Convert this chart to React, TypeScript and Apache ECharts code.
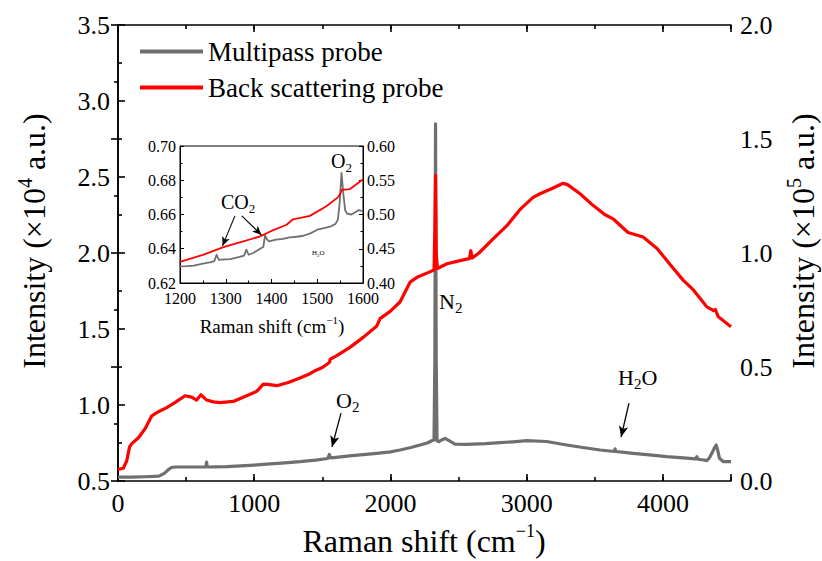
import React, { useEffect, useRef } from "react";
import * as echarts from "echarts";

// ---------- data ----------
// Main chart, multipass probe (left axis, ×10^4 a.u.)
const mainGrayX = [0, 100, 200, 300, 340, 370, 392, 420, 500, 600, 645, 650, 655, 665, 700, 800, 900, 1000, 1090, 1200, 1336, 1450, 1540, 1552, 1560, 1600, 1700, 1800, 1900, 2000, 2070, 2150, 2217, 2270, 2303, 2320, 2326, 2331, 2336, 2342, 2356, 2380, 2401, 2430, 2474, 2560, 2700, 2805, 2900, 3000, 3147, 3294, 3400, 3539, 3645, 3649, 3653, 3700, 3781, 3900, 4028, 4150, 4240, 4249, 4258, 4300, 4322, 4340, 4359, 4380, 4391, 4403, 4415, 4445, 4500];
const mainGrayY = [0.525, 0.525, 0.528, 0.532, 0.55, 0.575, 0.589, 0.592, 0.592, 0.592, 0.593, 0.625, 0.593, 0.592, 0.593, 0.595, 0.6, 0.605, 0.611, 0.618, 0.627, 0.637, 0.648, 0.675, 0.652, 0.656, 0.665, 0.673, 0.682, 0.692, 0.704, 0.72, 0.737, 0.75, 0.765, 0.77, 1.3, 2.85, 1.3, 0.765, 0.759, 0.772, 0.78, 0.765, 0.743, 0.741, 0.746, 0.752, 0.758, 0.765, 0.76, 0.737, 0.722, 0.704, 0.694, 0.712, 0.694, 0.69, 0.682, 0.672, 0.66, 0.652, 0.645, 0.66, 0.643, 0.638, 0.634, 0.65, 0.682, 0.72, 0.737, 0.7, 0.65, 0.627, 0.627];

// Main chart, back scattering probe (right axis, ×10^5 a.u.)
const mainRedX = [0, 39, 64, 85, 101, 150, 200, 248, 300, 358, 420, 492, 540, 577, 609, 651, 700, 749, 846, 944, 1018, 1067, 1100, 1165, 1250, 1336, 1400, 1450, 1500, 1552, 1558, 1600, 1700, 1800, 1900, 1924, 2000, 2070, 2144, 2200, 2280, 2320, 2326, 2331, 2336, 2345, 2415, 2480, 2560, 2580, 2590, 2600, 2650, 2750, 2855, 2950, 3047, 3098, 3186, 3267, 3300, 3392, 3487, 3570, 3634, 3744, 3855, 3957, 4053, 4150, 4224, 4322, 4360, 4371, 4385, 4407, 4500];
const mainRedY = [0.051, 0.056, 0.088, 0.15, 0.164, 0.19, 0.23, 0.286, 0.305, 0.322, 0.345, 0.374, 0.368, 0.355, 0.378, 0.355, 0.347, 0.344, 0.349, 0.374, 0.393, 0.425, 0.424, 0.418, 0.432, 0.452, 0.468, 0.485, 0.498, 0.52, 0.534, 0.548, 0.585, 0.63, 0.68, 0.712, 0.745, 0.785, 0.872, 0.895, 0.915, 0.925, 1.1, 1.34, 1.0, 0.932, 0.953, 0.962, 0.973, 0.975, 1.01, 0.978, 1.0, 1.06, 1.12, 1.19, 1.244, 1.26, 1.283, 1.306, 1.3, 1.26, 1.209, 1.17, 1.15, 1.09, 1.07, 1.02, 0.95, 0.88, 0.838, 0.764, 0.752, 0.747, 0.752, 0.72, 0.677];

// Inset, multipass probe (inset left axis)
const insetGrayX = [1200, 1215, 1230, 1250, 1265, 1275, 1280, 1285, 1290, 1310, 1330, 1340, 1345, 1350, 1360, 1375, 1382, 1386, 1390, 1395, 1410, 1425, 1440, 1455, 1470, 1485, 1500, 1515, 1530, 1540, 1545, 1549, 1553, 1557, 1561, 1565, 1575, 1590, 1600];
const insetGrayY = [0.6297, 0.6298, 0.6301, 0.6313, 0.632, 0.6328, 0.6365, 0.6335, 0.6336, 0.634, 0.6352, 0.636, 0.6395, 0.6365, 0.6375, 0.64, 0.641, 0.6478, 0.6455, 0.6443, 0.6453, 0.6458, 0.6467, 0.647, 0.6476, 0.649, 0.6511, 0.652, 0.6531, 0.6545, 0.657, 0.6667, 0.6843, 0.672, 0.6625, 0.6605, 0.66, 0.6625, 0.662];

// Inset, back scattering probe (inset right axis)
const insetRedX = [1200, 1250, 1295, 1340, 1375, 1400, 1433, 1447, 1484, 1520, 1545, 1550, 1553, 1571, 1600];
const insetRedY = [0.4308, 0.441, 0.4525, 0.461, 0.468, 0.476, 0.485, 0.493, 0.498, 0.512, 0.525, 0.53, 0.536, 0.537, 0.5515];

// Arrow annotations (start -> tip, in data units)
const o2Arrow = [[1637, 0.947], [1571, 0.724]];
const h2oArrow = [[3751, 1.013], [3693, 0.789]];
const co2ArrowA = [[1320, 0.6592], [1293, 0.6417]];
const co2ArrowB = [[1335, 0.6592], [1378, 0.6481]];

const seriesNames = ["Multipass probe", "Back scattering probe"];

// ---------- style ----------
const FONT = "Liberation Serif";
const GRAY = "#6f6f6f";
const RED = "#ff0000";
const BLACK = "#000";

const zip = (xs: number[], ys: number[]) => xs.map((x, i) => [x, ys[i]]);
const arrowLine = (a: number[][]) => [{ coord: a[0] }, { coord: a[1] }];

let measureCtx: CanvasRenderingContext2D | null = null;
function measure(text: string, size: number): number {
  if (!measureCtx) measureCtx = document.createElement("canvas").getContext("2d");
  if (!measureCtx) return text.length * size * 0.5;
  measureCtx.font = `${size}px "${FONT}"`;
  return measureCtx.measureText(text).width;
}

// pieces: [text, fontSize, verticalOffset]
function composite(x: number, y: number, pieces: [string, number, number][], align: "center" | "left" = "center", rotation = 0) {
  const widths = pieces.map((p) => measure(p[0], p[1]));
  const total = widths.reduce((a, b) => a + b, 0);
  let cx = align === "center" ? -total / 2 : 0;
  const children = pieces.map((p, i) => {
    const el = {
      type: "text",
      x: cx,
      y: p[2],
      silent: true,
      style: {
        text: p[0],
        fontSize: p[1],
        fontFamily: FONT,
        fill: BLACK,
        align: "left",
        verticalAlign: "middle",
        lineHeight: Math.round(p[1] * 0.9),
      },
    };
    cx += widths[i];
    return el;
  });
  return { type: "group", x, y, rotation, silent: true, children };
}

const tickStyle = (w: number) => ({ color: BLACK, width: w });

export default function App() {
  const ref = useRef<HTMLDivElement>(null);

  useEffect(() => {
    document.body.style.margin = "0";
    if (!ref.current) return;
    const chart = echarts.init(ref.current, null, { renderer: "svg" });

    const mainLine = { show: true, lineStyle: { color: BLACK, width: 1.6 } };
    const insetLine = { show: true, lineStyle: { color: BLACK, width: 1 } };

    const option: any = {
      animation: false,
      legend: {
        data: seriesNames,
        orient: "vertical",
        left: 140,
        top: 38,
        padding: 0,
        itemWidth: 63,
        itemHeight: 4,
        itemGap: 9,
        icon: "rect",
        selectedMode: false,
        textStyle: { fontFamily: FONT, fontSize: 27, color: BLACK },
      },
      grid: [
        { left: 118, top: 25, width: 613, height: 456, show: false },
        { left: 180, top: 146, width: 183, height: 137, show: true, borderColor: BLACK, borderWidth: 1, backgroundColor: "transparent" },
      ],
      xAxis: [
        {
          gridIndex: 0, type: "value", position: "bottom", min: 0, max: 4500, interval: 1000,
          axisLine: mainLine,
          axisTick: { inside: true, length: 7, lineStyle: tickStyle(1.6) },
          axisLabel: { fontFamily: FONT, fontSize: 26, color: BLACK, margin: 9, formatter: (v: number) => (v > 4000 ? "" : String(v)) },
          splitLine: { show: false },
        },
        {
          gridIndex: 0, type: "value", position: "bottom", min: 0, max: 4500, interval: 500,
          axisLine: { show: false },
          axisTick: { inside: true, length: 4, lineStyle: tickStyle(1.6) },
          axisLabel: { show: false },
          splitLine: { show: false },
        },
        {
          gridIndex: 0, type: "value", position: "top", min: 0, max: 4500, interval: 1000,
          axisLine: mainLine,
          axisTick: { inside: true, length: 7, lineStyle: tickStyle(1.6) },
          axisLabel: { show: false },
          splitLine: { show: false },
        },
        {
          gridIndex: 0, type: "value", position: "top", min: 0, max: 4500, interval: 500,
          axisLine: { show: false },
          axisTick: { inside: true, length: 4, lineStyle: tickStyle(1.6) },
          axisLabel: { show: false },
          splitLine: { show: false },
        },
        {
          gridIndex: 1, type: "value", position: "bottom", min: 1200, max: 1600, interval: 100,
          axisLine: insetLine,
          axisTick: { inside: true, length: 4, lineStyle: tickStyle(1) },
          minorTick: { show: true, splitNumber: 2, length: 2.5, lineStyle: tickStyle(1) },
          axisLabel: { fontFamily: FONT, fontSize: 16, color: BLACK, margin: 7, formatter: (v: number) => String(v) },
          splitLine: { show: false },
        },
      ],
      yAxis: [
        {
          gridIndex: 0, type: "value", position: "left", min: 0.5, max: 3.5, interval: 0.5,
          axisLine: mainLine,
          axisTick: { inside: true, length: 7, lineStyle: tickStyle(1.6) },
          minorTick: { show: true, splitNumber: 2, length: 4, lineStyle: tickStyle(1.6) },
          axisLabel: { fontFamily: FONT, fontSize: 26, color: BLACK, margin: 8, formatter: (v: number) => v.toFixed(1) },
          splitLine: { show: false },
        },
        {
          gridIndex: 0, type: "value", position: "right", min: 0, max: 2, interval: 0.5,
          axisLine: mainLine,
          axisTick: { inside: true, length: 7, lineStyle: tickStyle(1.6) },
          minorTick: { show: true, splitNumber: 2, length: 4, lineStyle: tickStyle(1.6) },
          axisLabel: { fontFamily: FONT, fontSize: 26, color: BLACK, margin: 9, formatter: (v: number) => v.toFixed(1) },
          splitLine: { show: false },
        },
        {
          gridIndex: 1, type: "value", position: "left", min: 0.62, max: 0.7, interval: 0.02,
          axisLine: insetLine,
          axisTick: { inside: true, length: 4, lineStyle: tickStyle(1) },
          minorTick: { show: true, splitNumber: 2, length: 2.5, lineStyle: tickStyle(1) },
          axisLabel: { fontFamily: FONT, fontSize: 16, color: BLACK, margin: 4, formatter: (v: number) => v.toFixed(2) },
          splitLine: { show: false },
        },
        {
          gridIndex: 1, type: "value", position: "right", min: 0.4, max: 0.6, interval: 0.05,
          axisLine: insetLine,
          axisTick: { inside: true, length: 4, lineStyle: tickStyle(1) },
          minorTick: { show: true, splitNumber: 2, length: 2.5, lineStyle: tickStyle(1) },
          axisLabel: { fontFamily: FONT, fontSize: 16, color: BLACK, margin: 4, formatter: (v: number) => v.toFixed(2) },
          splitLine: { show: false },
        },
      ],
      series: [
        {
          name: seriesNames[0], type: "line", xAxisIndex: 0, yAxisIndex: 0,
          data: zip(mainGrayX, mainGrayY), symbol: "none", showSymbol: false,
          lineStyle: { color: GRAY, width: 3.2, join: "round" }, itemStyle: { color: GRAY },
          markLine: {
            silent: true, symbol: ["none", "arrow"], symbolSize: [7, 11],
            label: { show: false }, emphasis: { disabled: true },
            lineStyle: { color: BLACK, width: 1.3, type: "solid" }, itemStyle: { color: BLACK },
            data: [arrowLine(o2Arrow), arrowLine(h2oArrow)],
          },
        },
        {
          name: seriesNames[1], type: "line", xAxisIndex: 0, yAxisIndex: 1,
          data: zip(mainRedX, mainRedY), symbol: "none", showSymbol: false,
          lineStyle: { color: RED, width: 3.2, join: "round" }, itemStyle: { color: RED },
        },
        {
          name: seriesNames[0], type: "line", xAxisIndex: 4, yAxisIndex: 2,
          data: zip(insetGrayX, insetGrayY), symbol: "none", showSymbol: false,
          lineStyle: { color: GRAY, width: 1.8, join: "round" }, itemStyle: { color: GRAY },
          markLine: {
            silent: true, symbol: ["none", "arrow"], symbolSize: [6, 9],
            label: { show: false }, emphasis: { disabled: true },
            lineStyle: { color: BLACK, width: 1.1, type: "solid" }, itemStyle: { color: BLACK },
            data: [arrowLine(co2ArrowA), arrowLine(co2ArrowB)],
          },
        },
        {
          name: seriesNames[1], type: "line", xAxisIndex: 4, yAxisIndex: 3,
          data: zip(insetRedX, insetRedY), symbol: "none", showSymbol: false,
          lineStyle: { color: RED, width: 1.8, join: "round" }, itemStyle: { color: RED },
        },
      ],
      graphic: [
        composite(424, 541, [["Raman shift (cm", 32, 0], ["\u22121", 18, -10.5], [")", 32, 0]]),
        composite(34, 241, [["Intensity (\u00d710", 32, 0], ["4", 20, -9], [" a.u.)", 32, 0]], "center", Math.PI / 2),
        composite(803, 241, [["Intensity (\u00d710", 32, 0], ["5", 20, -9], [" a.u.)", 32, 0]], "center", Math.PI / 2),
        composite(272, 326, [["Raman shift (cm", 19, 0], ["\u22121", 11, -6], [")", 19, 0]]),
        composite(439, 301, [["N", 22, 0], ["2", 15, 7]], "left"),
        composite(336, 400, [["O", 22, 0], ["2", 15, 6.5]], "left"),
        composite(618, 377, [["H", 22, 0], ["2", 15, 6.5], ["O", 22, 0]], "left"),
        composite(331, 161, [["O", 20, 0], ["2", 13, 6.5]], "left"),
        composite(221, 202, [["CO", 20, 0], ["2", 13, 6.5]], "left"),
        composite(312, 253, [["H", 7, 0], ["2", 5, 2], ["O", 7, 0]], "left"),
      ],
    };

    chart.setOption(option);
    return () => chart.dispose();
  }, []);

  return <div ref={ref} style={{ width: 822, height: 561 }} />;
}
